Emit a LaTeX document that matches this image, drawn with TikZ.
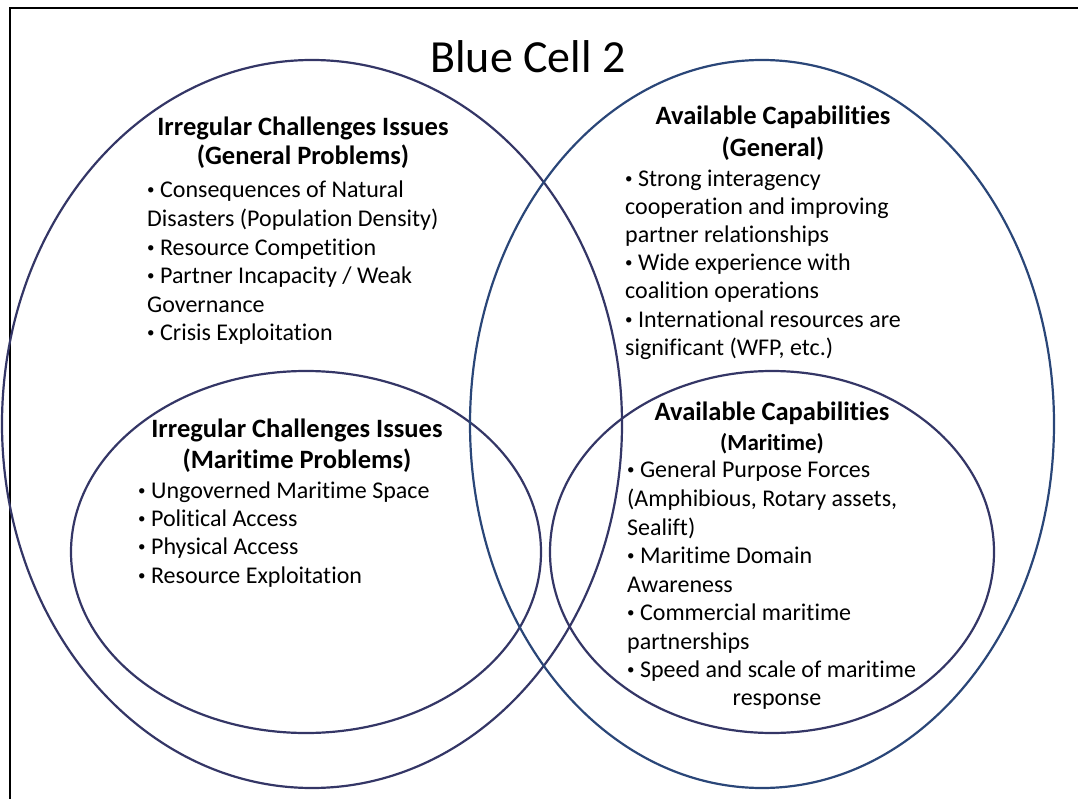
\documentclass[tikz,border=0pt]{standalone}
\usepackage{fontspec}
\setmainfont{Carlito}[Ligatures=NoCommon]
\definecolor{cellnavy}{RGB}{52,54,102}
\definecolor{cellblue}{RGB}{42,70,120}
\newcommand{\bul}{\raisebox{3pt}{\fontsize{15}{15}\selectfont\textbullet}\ }

\begin{document}
\begin{tikzpicture}[x=1pt,y=-1pt,
	ring/.style={draw=cellnavy,line width=2.2pt},
	head/.style={anchor=base,inner sep=0pt,font=\fontsize{26.5}{30}\selectfont\bfseries},
	item/.style={anchor=base west,inner sep=0pt,font=\fontsize{24}{28}\selectfont}]
	\useasboundingbox (0,0) rectangle (1078,799);
	% frame
	\draw [black,line width=1.6pt] (10,830) -- (10,8) -- (1100,8);
	% circles
	\draw [ring] (312,424) ellipse [x radius=310, y radius=364];
	\draw [ring] (306,552) ellipse [x radius=235, y radius=181];
	\draw [ring,draw=cellblue] (762,424) ellipse [x radius=292, y radius=364];
	\draw [ring] (772,552) ellipse [x radius=222, y radius=181];
	\node [anchor=base,inner sep=0pt,font=\fontsize{46}{50}\selectfont] (title) at (528,73) {Blue Cell 2};
	% general problems
	\node [head] (gph1) at (303,136) {Irregular Challenges Issues};
	\node [head] (gph2) at (303,165) {(General Problems)};
	\foreach \txt [count=\i] in {\bul Consequences of Natural, Disasters (Population Density),
		\bul Resource Competition, \bul Partner Incapacity / Weak, Governance, \bul Crisis Exploitation}
		\node [item] (gp\i) at (147,{169.4+28.6*\i}) {\txt};
	% general capabilities
	\node [head] (gch1) at (773,125) {Available Capabilities};
	\node [head] (gch2) at (773,157) {(General)};
	\foreach \txt [count=\i] in {\bul Strong interagency, cooperation and improving, partner relationships,
		\bul Wide experience with, coalition operations, \bul International resources are, {significant (WFP, etc.)}}
		\node [item] (gc\i) at (625,{159+28*\i}) {\txt};
	% maritime problems
	\node [head] (mph1) at (297,437) {Irregular Challenges Issues};
	\node [head] (mph2) at (297,468) {(Maritime Problems)};
	\foreach \txt [count=\i] in {\bul Ungoverned Maritime Space, \bul Political Access, \bul Physical Access,
		\bul Resource Exploitation}
		\node [item] (mp\i) at (138,{469.7+28.33*\i}) {\txt};
	% maritime capabilities
	\node [head] (mch1) at (772,420) {Available Capabilities};
	\node [head,font=\fontsize{23}{26}\selectfont\bfseries] (mch2) at (772,450) {(Maritime)};
	\foreach \txt [count=\i] in {\bul General Purpose Forces, {(Amphibious, Rotary assets,}, Sealift),
		\bul Maritime Domain, Awareness, \bul Commercial maritime, partnerships, \bul Speed and scale of maritime}
		\node [item] (mc\i) at (627,{449.4+28.57*\i}) {\txt};
	\node [item,anchor=base] (mc9) at (777,705) {response};
\end{tikzpicture}
\end{document}
